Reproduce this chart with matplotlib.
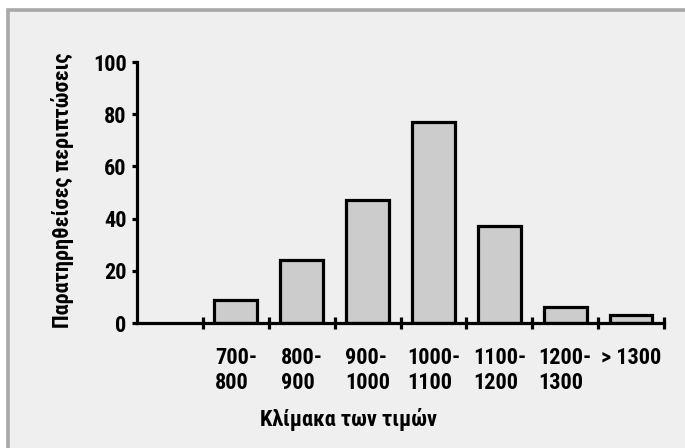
import matplotlib
matplotlib.use("Agg")
import matplotlib.pyplot as plt
from matplotlib.patches import Rectangle

# data
categories = ["", "700-\n800", "800-\n900", "900-\n1000", "1000-\n1100",
              "1100-\n1200", "1200-\n1300", "> 1300"]
counts = [0, 9, 24, 47, 77, 37, 6, 3]
y_ticks = [0, 20, 40, 60, 80, 100]

plt.rcParams["font.family"] = ["Roboto Condensed", "DejaVu Sans"]
plt.rcParams["font.weight"] = "bold"
plt.rcParams["font.size"] = 16


def main() -> None:
    fig = plt.figure(figsize=(6.85, 4.48), dpi=100, facecolor="white")
    W, H = 685, 448

    # grey frame with light background
    frame = Rectangle((8 / W, -0.05), (W + 10) / W, (H - 10) / H + 0.05,
                      transform=fig.transFigure, facecolor="#efefef",
                      edgecolor="#a8a8a8", linewidth=2.6, zorder=-10)
    fig.patches.append(frame)

    ax = fig.add_axes([137 / W, 125 / H, (664 - 137) / W, (323 - 62) / H])
    ax.set_facecolor("none")

    x = list(range(len(categories)))
    ax.bar(x[1:], counts[1:], width=0.65, color="#cccccc",
           edgecolor="black", linewidth=2.3, zorder=2)

    ax.set_xlim(-0.5, len(categories) - 0.5)
    ax.set_ylim(0, 100)

    for side in ("top", "right"):
        ax.spines[side].set_visible(False)
    for side in ("left", "bottom"):
        ax.spines[side].set_linewidth(2.3)
    ax.spines["bottom"].set_zorder(3)

    ax.set_yticks(y_ticks)
    ax.set_yticklabels([str(v) for v in y_ticks], fontweight="bold")
    ax.tick_params(axis="y", length=3.5, width=2.3, pad=4, labelsize=16)

    # boundary ticks crossing the x axis, labels centred under each bar
    ax.set_xticks([i + 0.5 for i in x[:-1]] + [len(categories) - 0.5])
    ax.set_xticklabels([])
    ax.tick_params(axis="x", which="major", direction="inout", length=8,
                   width=2.3)
    ax.set_xticks(x[1:], minor=True)
    ax.set_xticklabels(categories[1:], minor=True, fontweight="bold",
                       fontsize=16, linespacing=1.2)
    ax.tick_params(axis="x", which="minor", length=0, pad=17)
    for lbl in ax.get_xticklabels(minor=True):
        lbl.set_multialignment("left")
        lbl.set_verticalalignment("top")

    fig.text(349 / W, 1 - 419 / H, "Κλίμακα των τιμών", ha="center",
             va="center", fontsize=16, fontweight="bold")
    fig.text(63 / W, 1 - 190 / H, "Παρατηρηθείσες περιπτώσεις",
             rotation=90, ha="center", va="center", fontsize=16,
             fontweight="bold")

    fig.savefig("out.png", dpi=100, facecolor="white")


if __name__ == "__main__":
    main()
